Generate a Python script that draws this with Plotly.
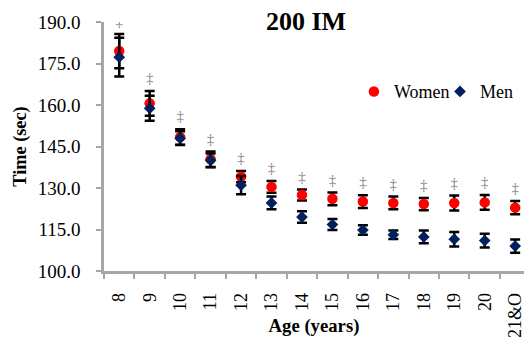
import plotly.graph_objects as go

ages = ["8", "9", "10", "11", "12", "13", "14", "15", "16", "17", "18", "19", "20", "21&O"]
women = [179.5, 160.6, 148.4, 140.4, 134.1, 130.4, 127.5, 126.1, 125.1, 124.6, 124.2, 124.6, 124.8, 122.9]
women_err = [6.2, 4.5, 2.8, 2.8, 2.0, 2.1, 2.0, 2.3, 2.3, 2.3, 2.2, 2.7, 2.7, 2.4]
men = [177.3, 158.8, 148.0, 140.0, 131.0, 124.6, 119.5, 116.8, 114.8, 113.1, 112.3, 111.5, 111.0, 109.0]
men_err = [7.0, 4.5, 2.5, 2.5, 3.3, 2.3, 2.1, 2.0, 1.7, 1.5, 2.3, 2.6, 2.5, 2.4]
sig_offset = 4.2
sig = [max(w + we, m + me) + sig_offset for w, we, m, me in zip(women, women_err, men, men_err)]

FONT = "Liberation Serif"
AXIS_GRAY = "#A6A6A6"

fig = go.Figure()
fig.add_trace(go.Scatter(
    x=ages, y=women, mode="markers", name="Women", legend="legend",
    marker=dict(symbol="circle", size=10.5, color="#FF0000"),
    error_y=dict(type="data", array=women_err, color="black", thickness=2.5, width=5),
))
fig.add_trace(go.Scatter(
    x=ages, y=men, mode="markers", name="Men", legend="legend2",
    marker=dict(symbol="diamond", size=9, color="#002060"),
    error_y=dict(type="data", array=men_err, color="black", thickness=2.5, width=5),
))
fig.add_trace(go.Scatter(
    x=ages, y=sig, mode="text", text=["‡"] * len(ages), showlegend=False,
    textfont=dict(family=FONT, size=15, color="#808080"), hoverinfo="skip",
))

leg_common = dict(orientation="h", xanchor="left", yanchor="middle", y=0.72,
                  font=dict(family=FONT, size=18, color="black"),
                  bgcolor="rgba(0,0,0,0)", itemwidth=30)

fig.update_layout(
    width=524, height=337,
    margin=dict(l=104, r=0, t=22, b=66),
    paper_bgcolor="white", plot_bgcolor="white",
    font=dict(family=FONT, color="black", size=18),
    title=dict(text="<b>200 IM</b>", x=0.584, xanchor="center", y=0.937, yanchor="middle",
               font=dict(family=FONT, size=26, color="black")),
    legend=dict(x=0.595, **leg_common),
    legend2=dict(x=0.80, **leg_common),
    showlegend=True,
)
fig.update_xaxes(
    type="category", range=[-0.5, 13.29], automargin=False,
    showline=True, linecolor=AXIS_GRAY, linewidth=2.5,
    ticks="outside", tickson="boundaries", ticklen=5, tickwidth=2, tickcolor=AXIS_GRAY,
    tickangle=-90, tickfont=dict(family=FONT, size=18), ticklabelstandoff=12,
    showgrid=False, zeroline=False,
    title=dict(text="<b>Age (years)</b>", font=dict(family=FONT, size=18.7)),
)
fig.update_yaxes(
    range=[100, 190], dtick=15, tick0=100, tickformat=".1f", automargin=False,
    showline=True, linecolor=AXIS_GRAY, linewidth=2.5,
    ticks="outside", ticklen=5, tickwidth=2, tickcolor=AXIS_GRAY,
    tickfont=dict(family=FONT, size=19), ticklabelstandoff=12,
    showgrid=False, zeroline=False,
    title=dict(text="<b>Time (sec)</b>", font=dict(family=FONT, size=18.3), standoff=7),
)

fig.write_html("out.html")
